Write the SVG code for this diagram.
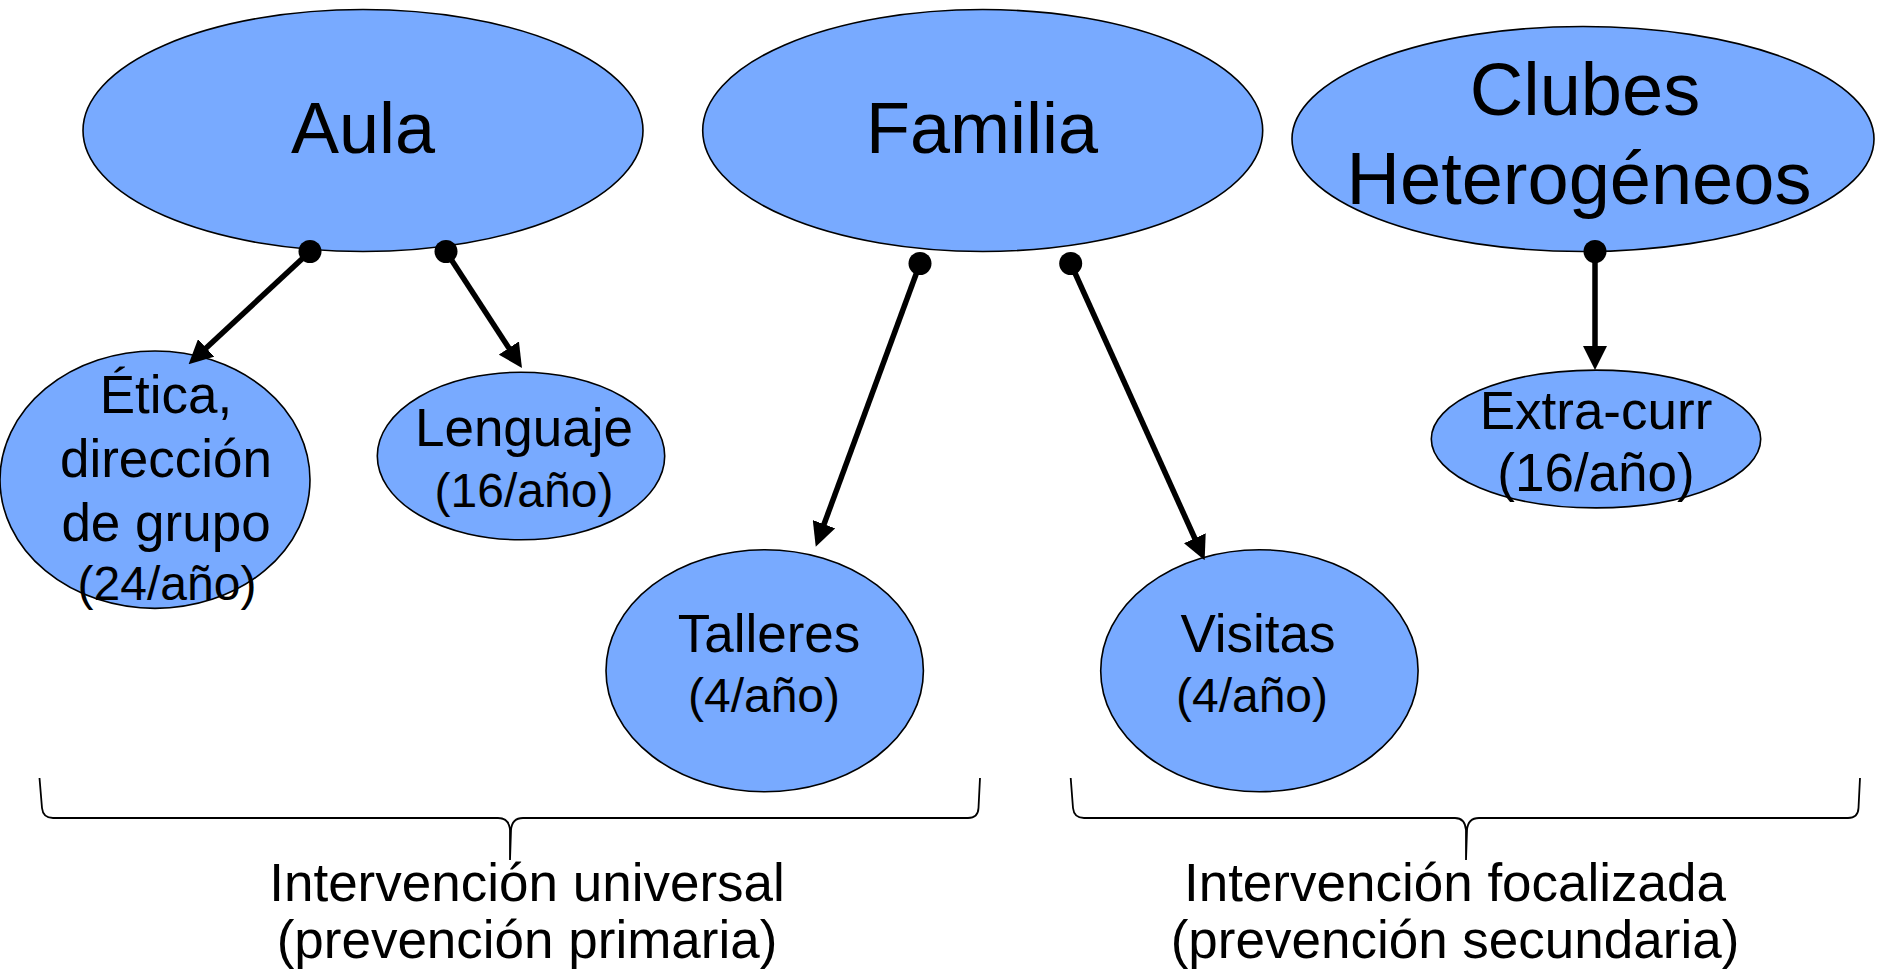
<svg xmlns="http://www.w3.org/2000/svg" width="1878" height="976" viewBox="0 0 1878 976">
<style>
.node ellipse{fill:#78aaff;stroke:#000;stroke-width:1.6}
text{font-family:"Liberation Sans",Arial,sans-serif;fill:#000;text-anchor:middle}
.big{font-size:72px}
.big2{font-size:74px}
.mid{font-size:53px}
.sm{font-size:48px}
.conn line{stroke:#000;stroke-width:5.5}
.dot{fill:#000}
.brace{fill:none;stroke:#000;stroke-width:1.8}
</style>
<defs>
<marker id="arr" markerUnits="userSpaceOnUse" markerWidth="24" markerHeight="24" refX="3" refY="12" orient="auto" viewBox="0 0 24 24">
<path d="M0,0 L24,12 L0,24 z" fill="#000"/>
</marker>
</defs>
<rect width="1878" height="976" fill="#fff"/>

<g id="aula" class="node">
<ellipse cx="363" cy="130.5" rx="280" ry="121"/>
<text class="big" x="363" y="153">Aula</text>
</g>
<g id="familia" class="node">
<ellipse cx="982.7" cy="130.5" rx="280" ry="121"/>
<text class="big" x="982" y="153">Familia</text>
</g>
<g id="clubes" class="node">
<ellipse cx="1583" cy="139" rx="291" ry="112.5"/>
<text class="big2" x="1585" y="115">Clubes</text>
<text class="big2" x="1579" y="204">Heterogéneos</text>
</g>
<g id="etica" class="node">
<ellipse cx="155" cy="479.7" rx="155" ry="128.7"/>
<text class="mid" x="166" y="413">Ética,</text>
<text class="mid" x="166" y="477">dirección</text>
<text class="mid" x="166" y="541">de grupo</text>
<text class="sm" x="167" y="600">(24/año)</text>
</g>
<g id="lenguaje" class="node">
<ellipse cx="521" cy="456" rx="143.7" ry="83.8"/>
<text class="mid" x="524" y="446">Lenguaje</text>
<text class="sm" x="524" y="507">(16/año)</text>
</g>
<g id="talleres" class="node">
<ellipse cx="764.7" cy="670.7" rx="158.7" ry="121"/>
<text class="mid" x="769" y="652">Talleres</text>
<text class="sm" x="764" y="712">(4/año)</text>
</g>
<g id="visitas" class="node">
<ellipse cx="1259.4" cy="670.7" rx="158.7" ry="121"/>
<text class="mid" x="1258" y="652">Visitas</text>
<text class="sm" x="1252" y="712">(4/año)</text>
</g>
<g id="extracurr" class="node">
<ellipse cx="1596" cy="439" rx="164.7" ry="68.9"/>
<text class="mid" x="1596" y="429">Extra-curr</text>
<text class="mid" x="1596" y="491">(16/año)</text>
</g>

<g id="connectors" class="conn">
<line x1="310" y1="251.5" x2="204" y2="350" marker-end="url(#arr)"/>
<circle class="dot" cx="310" cy="251.5" r="11.5"/>
<line x1="446" y1="251.5" x2="510.5" y2="350.5" marker-end="url(#arr)"/>
<circle class="dot" cx="446" cy="251.5" r="11.5"/>
<line x1="920" y1="263.5" x2="823" y2="527" marker-end="url(#arr)"/>
<circle class="dot" cx="920" cy="263.5" r="11.5"/>
<line x1="1070.7" y1="263.5" x2="1196" y2="541" marker-end="url(#arr)"/>
<circle class="dot" cx="1070.7" cy="263.5" r="11.5"/>
<line x1="1595" y1="251.5" x2="1595" y2="349" marker-end="url(#arr)"/>
<circle class="dot" cx="1595" cy="251.5" r="11.5"/>
</g>

<g id="brace-universal">
<path class="brace" d="M39.5,778 L42,808 Q43,818 53,818 L498,818 Q509,818 510,830 L510,860 M510,860 L511,830 Q512,818 523,818 L968,818 Q978,818 978.5,808 L980,778"/>
<text class="mid" x="527" y="901">Intervención universal</text>
<text class="mid" x="527" y="958">(prevención primaria)</text>
</g>
<g id="brace-focalizada">
<path class="brace" d="M1070.7,778 L1073,808 Q1074,818 1084,818 L1455,818 Q1465,818 1466,830 L1466,860 M1466,860 L1467,830 Q1468,818 1479,818 L1848,818 Q1858,818 1858.5,808 L1860,778"/>
<text class="mid" x="1455" y="901">Intervención focalizada</text>
<text class="mid" x="1455" y="958">(prevención secundaria)</text>
</g>
</svg>
